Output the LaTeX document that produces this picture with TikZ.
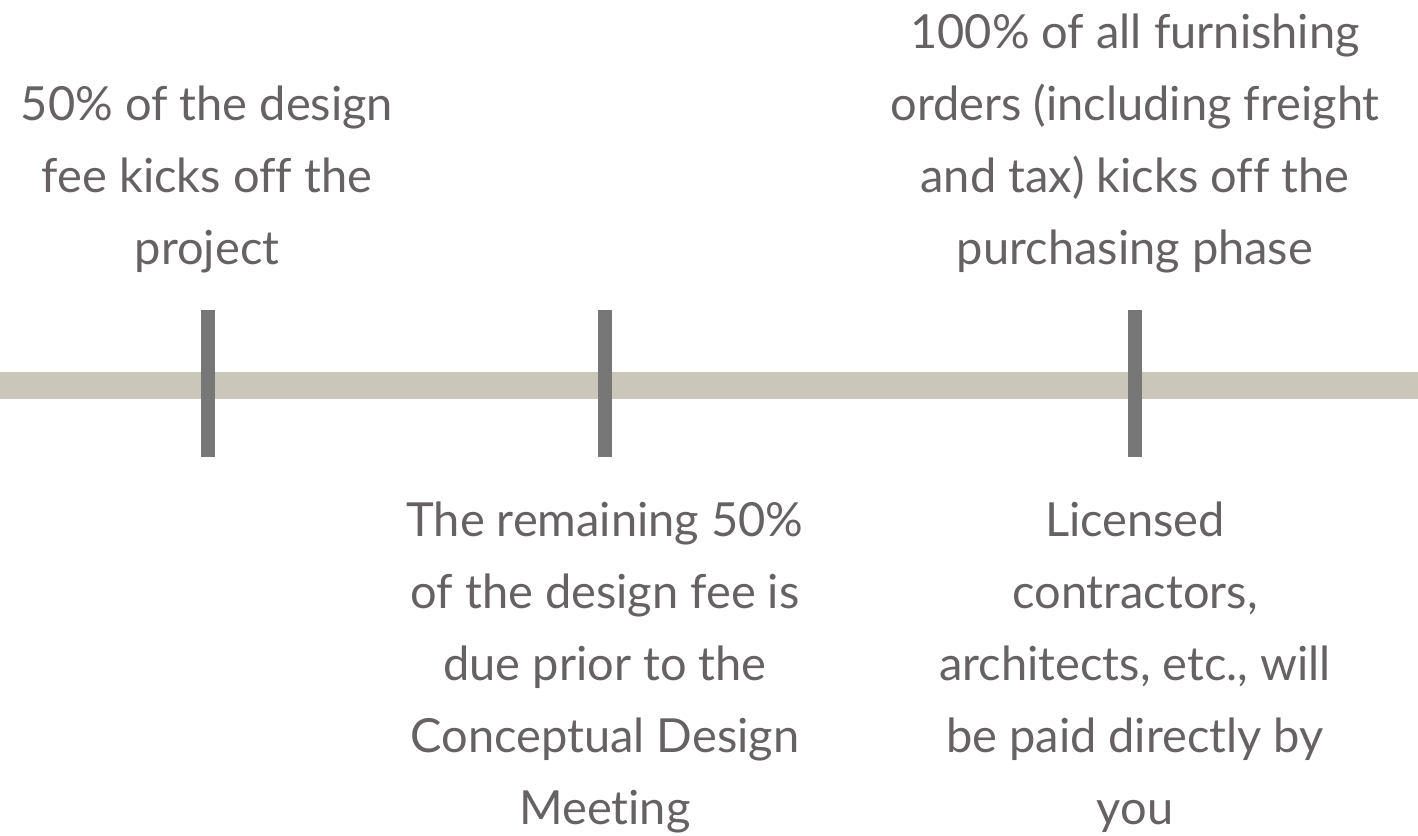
\documentclass[tikz,border=0pt]{standalone}
\usepackage{fontspec}
\setmainfont{Lato}[Ligatures=NoCommon]
\definecolor{barbeige}{HTML}{CAC6B9}
\definecolor{tickgray}{HTML}{777777}
\definecolor{textgray}{HTML}{666263}
\tikzset{
  note/.style={align=center,inner sep=0pt,anchor=base,text=textgray,
    font=\fontsize{47}{72}\selectfont}
}
\begin{document}
\begin{tikzpicture}[x=1pt,y=1pt]
      \useasboundingbox (0,0) rectangle (1418,835);
      \fill[barbeige] (0,436) rectangle (1418,463);
      \fill[tickgray] (201,378) rectangle (215,525);
      \fill[tickgray] (598,378) rectangle (612,525);
      \fill[tickgray] (1128,378) rectangle (1142,525);
      \node[note] (kickoff) at (207,570) {50\% of the design\\fee kicks off the\\project};
      \node[note] (remaining) at (605,11) {The remaining 50\%\\of the design fee is\\due prior to the\\Conceptual Design\\Meeting};
      \node[note] (furnishing) at (1135,570) {100\% of all furnishing\\orders (including freight\\and tax) kicks off the\\purchasing phase};
      \node[note] (contractors) at (1135,11) {Licensed\\contractors,\\architects, etc., will\\be paid directly by\\you};
\end{tikzpicture}
\end{document}
